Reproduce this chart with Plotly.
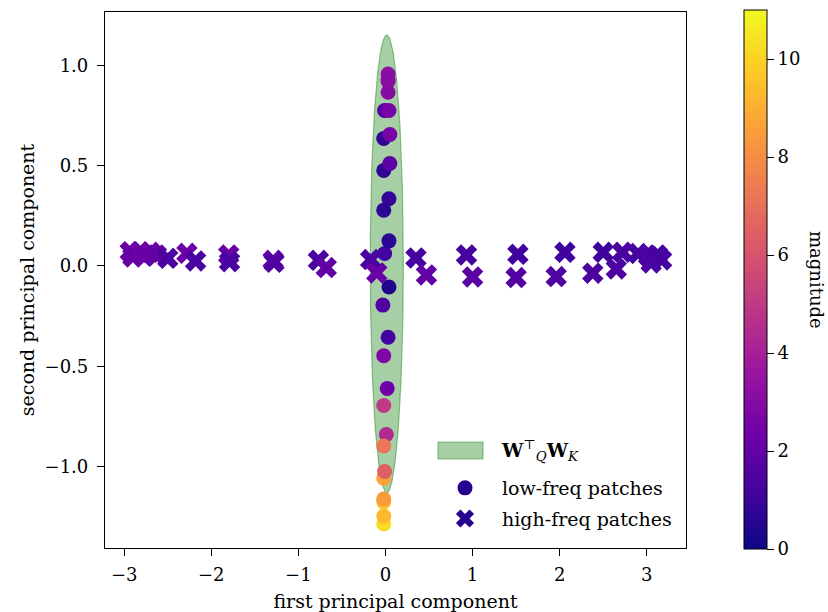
import numpy as np
import plotly.graph_objects as go

# ---- data ----
low_x = [-0.02, -0.02, -0.02, -0.02, -0.02, -0.01, 0.01, -0.02, -0.02, 0.02, 0.03, -0.03, 0.04,
         -0.01, 0.04, -0.02, 0.04, -0.02, 0.05, -0.02, 0.05, -0.01, 0.04, 0.03, 0.03, 0.03, 0.03, -0.02]
low_y = [-1.285, -1.246, -1.175, -1.161, -1.057, -1.024, -0.840, -0.897, -0.695, -0.610, -0.355, -0.195, -0.105,
         0.062, 0.125, 0.278, 0.335, 0.476, 0.510, 0.635, 0.655, 0.774, 0.774, 0.865, 0.920, 0.956, 0.930, -0.447]
low_mag = [10.3, 9.3, 9.5, 8.4, 8.6, 6.4, 4.4, 7.2, 5.0, 2.4, 1.2, 1.5, 0.4,
           1.2, 0.6, 0.7, 0.8, 0.7, 1.8, 0.8, 2.6, 1.6, 2.6, 3.0, 3.0, 3.2, 3.1, 2.8]

high_x = [-2.93, -2.90, -2.82, -2.77, -2.70, -2.63, -2.50, -2.28, -2.18, -1.80, -1.79, -1.29, -1.28,
          -0.77, -0.68, -0.17, -0.10, 0.35, 0.47, 0.93, 1.00, 1.52, 1.50, 2.06, 1.96, 2.50, 2.38,
          2.72, 2.65, 2.90, 3.02, 3.12, 3.05, 3.17]
high_y = [0.071, 0.045, 0.071, 0.048, 0.068, 0.055, 0.038, 0.063, 0.025, 0.055, 0.021, 0.028, 0.018,
          0.028, -0.008, 0.032, -0.035, 0.040, -0.045, 0.055, -0.055, 0.058, -0.058, 0.068, -0.053, 0.068, -0.036,
          0.068, -0.015, 0.062, 0.050, 0.055, 0.015, 0.030]
high_mag = [2.2, 2.0, 2.3, 2.1, 2.2, 2.0, 1.4, 2.3, 1.3, 2.2, 1.3, 2.2, 1.5,
            1.3, 2.0, 1.3, 2.2, 1.2, 2.0, 1.2, 1.8, 1.1, 1.6, 1.1, 1.5, 1.1, 1.4,
            1.3, 1.4, 1.2, 1.3, 1.2, 1.4, 1.2]

# ellipse (W_Q^T W_K) parameters
ell_cx, ell_cy = 0.015, 0.01
ell_ax, ell_ay = 0.19, 1.14
ell_angle_deg = 0.0

x_ticks = [-3, -2, -1, 0, 1, 2, 3]
x_ticklabels = ["\u22123", "\u22122", "\u22121", "0", "1", "2", "3"]
y_ticks = [-1.0, -0.5, 0.0, 0.5, 1.0]
y_ticklabels = ["\u22121.0", "\u22120.5", "0.0", "0.5", "1.0"]
cb_ticks = [0, 2, 4, 6, 8, 10]

FONT = "DejaVu Serif"
FS = 18
FS_TITLE = 19
FS_LEG = 19
CMAX = 11
ELL_FILL = "rgba(20,130,20,0.38)"
ELL_EDGE = "rgba(20,130,20,0.45)"
LEG_COLOR = "#25038f"

# plot area in pixels
L, R, T, B = 105, 686, 12, 548
W, H = 828, 612


def px_x(p):
    return (p - L) / (R - L)


def px_y(p):
    return (B - p) / (B - T)


t = np.linspace(0, 2 * np.pi, 240)
th = np.deg2rad(ell_angle_deg)
ex = ell_cx + ell_ax * np.cos(t) * np.cos(th) - ell_ay * np.sin(t) * np.sin(th)
ey = ell_cy + ell_ax * np.cos(t) * np.sin(th) + ell_ay * np.sin(t) * np.cos(th)

fig = go.Figure()
fig.add_trace(go.Scatter(
    x=ex, y=ey, mode="lines", fill="toself",
    fillcolor=ELL_FILL, line=dict(color=ELL_EDGE, width=1.2),
    hoverinfo="skip", showlegend=False))

fig.add_trace(go.Scatter(
    x=low_x, y=low_y, mode="markers", showlegend=False,
    marker=dict(symbol="circle", size=15, color=low_mag, colorscale="Plasma",
                cmin=0, cmax=CMAX, line=dict(width=0),
                colorbar=dict(x=px_x(744), xref="paper", xanchor="left", xpad=0, ypad=0,
                              y=px_y(279.5), yanchor="middle",
                              lenmode="pixels", len=539, thickness=23,
                              outlinewidth=1, outlinecolor="black",
                              tickvals=cb_ticks, ticks="outside", ticklen=7,
                              tickcolor="black", tickfont=dict(family=FONT, size=FS, color="black")))))

fig.add_trace(go.Scatter(
    x=high_x, y=high_y, mode="markers", showlegend=False,
    marker=dict(symbol="x", size=19, color=high_mag, colorscale="Plasma",
                cmin=0, cmax=CMAX, line=dict(width=0))))

# legend entries (the ellipse patch is drawn as a shape over its invisible legend symbol)
fig.add_trace(go.Scatter(x=[None], y=[None], mode="lines", legend="legend2",
                         name="<b>W</b><sup>\u22a4</sup><sub><i>Q</i></sub><b>W</b><sub><i>K</i></sub>",
                         line=dict(color="rgba(0,0,0,0)", width=0)))
fig.add_trace(go.Scatter(x=[None], y=[None], mode="markers", name="low-freq patches", legendgroup="b",
                         marker=dict(symbol="circle", size=15, color=LEG_COLOR)))
fig.add_trace(go.Scatter(x=[None], y=[None], mode="markers", name="high-freq patches", legendgroup="c",
                         marker=dict(symbol="x", size=19, color=LEG_COLOR)))

axis_common = dict(showgrid=False, zeroline=False, showline=True, linecolor="black", linewidth=1.2,
                   mirror=True, ticks="outside", ticklen=7, tickcolor="black", automargin=False,
                   tickfont=dict(family=FONT, size=FS, color="black"))

legend_common = dict(xanchor="left", bgcolor="rgba(255,255,255,0)", borderwidth=0, tracegroupgap=3,
                     font=dict(family=FONT, size=FS_LEG, color="black"), itemwidth=64)

fig.update_layout(
    width=W, height=H,
    margin=dict(l=L, r=W - R, t=T, b=H - B, autoexpand=False),
    plot_bgcolor="white", paper_bgcolor="white",
    font=dict(family=FONT, size=FS, color="black"),
    xaxis=dict(range=[-3.22, 3.45], tickvals=x_ticks, ticktext=x_ticklabels, ticklabelstandoff=3,
               title=dict(text="first principal component", font=dict(family=FONT, size=FS_TITLE), standoff=14),
               **axis_common),
    yaxis=dict(range=[-1.405, 1.265], tickvals=y_ticks, ticktext=y_ticklabels, ticklabelstandoff=5,
               title=dict(text="second principal component", font=dict(family=FONT, size=FS_TITLE), standoff=4),
               **axis_common),
    legend=dict(x=px_x(428), y=px_y(538), yanchor="bottom", **legend_common),
    legend2=dict(x=px_x(428), y=px_y(450), yanchor="middle", **legend_common),
    shapes=[dict(type="rect", xref="paper", yref="paper",
                 x0=px_x(438), x1=px_x(483), y0=px_y(459), y1=px_y(442),
                 fillcolor=ELL_FILL, line=dict(color=ELL_EDGE, width=1.2))],
    annotations=[dict(text="magnitude", xref="paper", yref="paper",
                      x=px_x(829), y=px_y(279.5), showarrow=False,
                      textangle=90, font=dict(family=FONT, size=FS, color="black"))],
)

fig.write_html("out.html", config={"displayModeBar": False},
               post_script="document.body.style.margin='0';")
